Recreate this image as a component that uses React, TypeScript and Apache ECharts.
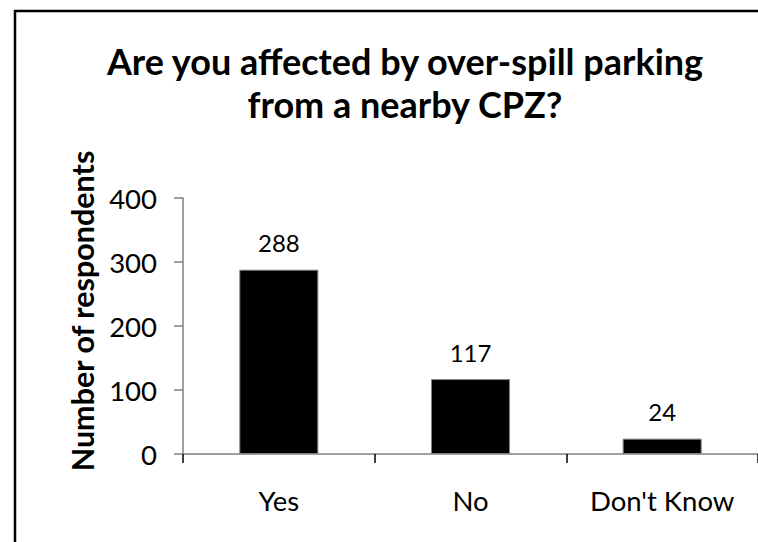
import React, { useEffect, useRef } from "react";
import * as echarts from "echarts";

const categories = ["Yes", "No", "Don't Know"];
const respondents = [288, 117, 24];
const yTicks = [0, 100, 200, 300, 400];
const titleLines = ["Are you affected by over-spill parking", "from a nearby CPZ?"];
const yAxisTitle = "Number of respondents";

const FONT = "Lato";

export default function App() {
  const ref = useRef<HTMLDivElement>(null);
  useEffect(() => {
    if (!ref.current) return;
    const chart = echarts.init(ref.current, undefined, { renderer: "svg" });
    chart.setOption({
      animation: false,
      backgroundColor: "#ffffff",
      title: {
        text: titleLines.join("\n"),
        left: 400,
        top: 34,
        textAlign: "center",
        textStyle: {
          fontFamily: FONT,
          fontWeight: "bold",
          fontSize: 36,
          lineHeight: 43,
          color: "#000",
        },
      },
      grid: { left: 183, top: 198, width: 579, height: 256, containLabel: false },
      xAxis: {
        type: "category",
        data: categories,
        axisLine: { show: true, lineStyle: { color: "#808080", width: 1.5 } },
        axisTick: { show: true, alignWithLabel: false, length: 9, lineStyle: { color: "#000", width: 1.5 } },
        axisLabel: { fontFamily: FONT, fontSize: 27.5, color: "#000", margin: 32 },
      },
      yAxis: {
        type: "value",
        min: yTicks[0],
        max: yTicks[yTicks.length - 1],
        interval: 100,
        splitLine: { show: false },
        axisLine: { show: true, lineStyle: { color: "#808080", width: 1.5 } },
        axisTick: { show: true, length: 9, lineStyle: { color: "#808080", width: 1.5 } },
        axisLabel: { fontFamily: FONT, fontSize: 27.5, color: "#000", margin: 26 },
      },
      series: [
        {
          type: "bar",
          data: respondents,
          barWidth: 79,
          itemStyle: { color: "#000", borderColor: "#808080", borderWidth: 1 },
          label: {
            show: true,
            position: "top",
            distance: 15,
            fontFamily: FONT,
            fontSize: 24,
            color: "#000",
          },
        },
      ],
      graphic: [
        {
          type: "line",
          shape: { x1: 15, y1: 10, x2: 15, y2: 542 },
          style: { stroke: "#000", lineWidth: 2.5 },
          silent: true,
        },
        {
          type: "line",
          shape: { x1: 14, y1: 11, x2: 758, y2: 11 },
          style: { stroke: "#000", lineWidth: 2.5 },
          silent: true,
        },
        {
          type: "text",
          x: 82,
          y: 311,
          rotation: Math.PI / 2,
          style: {
            text: yAxisTitle,
            fontFamily: FONT,
            fontWeight: "bold",
            fontSize: 30.5,
            fill: "#000",
            textAlign: "center",
            textVerticalAlign: "middle",
          },
        },
      ],
    });
    return () => chart.dispose();
  }, []);
  return (
    <div
      ref={ref}
      style={{ position: "fixed", left: 0, top: 0, width: 758, height: 542, overflow: "hidden" }}
    />
  );
}
